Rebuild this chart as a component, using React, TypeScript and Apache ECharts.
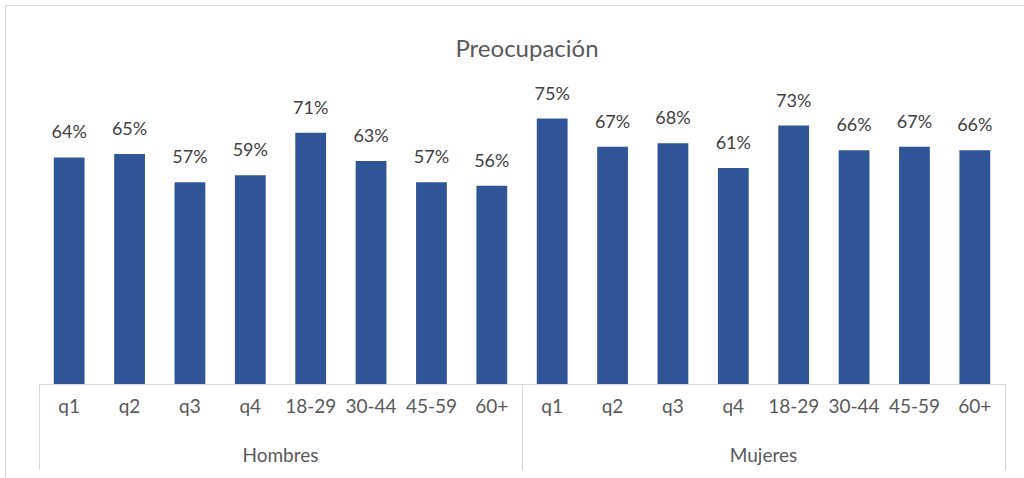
import React, { useEffect, useRef } from "react";
import * as echarts from "echarts";

const categories = ["q1", "q2", "q3", "q4", "18-29", "30-44", "45-59", "60+", "q1", "q2", "q3", "q4", "18-29", "30-44", "45-59", "60+"];
const groups = ["Hombres", "Mujeres"];
const hombres = [0.64, 0.65, 0.57, 0.59, 0.71, 0.63, 0.57, 0.56];
const mujeres = [0.75, 0.67, 0.68, 0.61, 0.73, 0.66, 0.67, 0.66];
const values = [...hombres, ...mujeres];

export default function App() {
  const ref = useRef<HTMLDivElement>(null);
  useEffect(() => {
    document.body.style.margin = "0";
    const chart = echarts.init(ref.current!, null, { renderer: "svg" });
    const font = "Lato, 'Open Sans', sans-serif";
    chart.setOption({
      animation: false,
      backgroundColor: "#ffffff",
      title: {
        text: "Preocupación",
        left: 522,
        top: 30,
        textAlign: "center",
        textStyle: { fontFamily: font, fontSize: 24, fontWeight: "normal", color: "#595959" },
      },
      graphic: [
        {
          type: "rect",
          shape: { x: 5.5, y: 5.5, width: 1040, height: 500 },
          style: { fill: "none", stroke: "#d9d9d9", lineWidth: 1 },
          silent: true,
        },
      ],
      grid: { left: 39, right: 19, top: 30, bottom: 94 },
      xAxis: [
        {
          type: "category",
          data: categories,
          position: "bottom",
          axisLine: { show: true, lineStyle: { color: "#d9d9d9", width: 1 } },
          axisTick: { show: false },
          axisLabel: { fontFamily: font, fontSize: 19, color: "#595959", margin: 12, interval: 0 },
        },
        {
          type: "category",
          data: groups,
          position: "bottom",
          axisLine: { show: false },
          axisTick: { show: true, length: 86, lineStyle: { color: "#d9d9d9", width: 1 } },
          axisLabel: { fontFamily: font, fontSize: 19, color: "#595959", margin: 61 },
        },
      ],
      yAxis: { type: "value", min: 0, max: 1, show: false, splitLine: { show: false } },
      series: [
        {
          type: "bar",
          xAxisIndex: 0,
          data: values,
          barCategoryGap: "49%",
          itemStyle: { color: "#2f5597" },
          label: {
            show: true,
            position: "top",
            distance: 17,
            fontFamily: font,
            fontSize: 18,
            color: "#404040",
            formatter: (p: any) => Math.round(p.value * 100) + "%",
          },
        },
      ],
    });
    return () => chart.dispose();
  }, []);
  return <div ref={ref} style={{ width: 1024, height: 478 }} />;
}
